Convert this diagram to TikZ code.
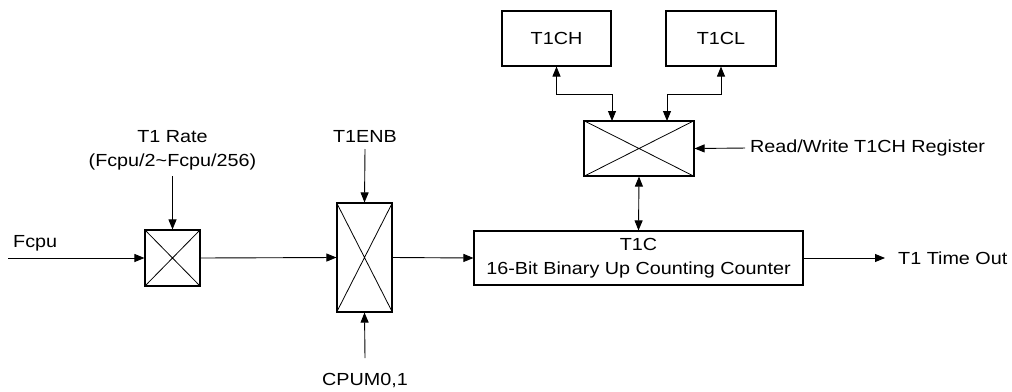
\documentclass[tikz,border=0pt]{standalone}
\usepackage{fontspec}
\setmainfont{Liberation Sans}[FakeStretch=1.13]
\usetikzlibrary{arrows.meta}
\begin{document}
\begin{tikzpicture}[x=1pt,y=-1pt,
  every node/.style={font=\fontsize{17.5}{24}\selectfont},
  box/.style={draw,line width=1.1pt,inner sep=0pt,align=center},
  muxbox/.style={draw,line width=1.1pt,inner sep=0pt},
  lbl/.style={inner sep=2pt,align=center},
  conn/.style={line width=0.9pt,-{Triangle[length=10pt,width=8pt]}},
  dconn/.style={line width=0.9pt,{Triangle[length=10pt,width=8pt]}-{Triangle[length=10pt,width=8pt]}}]
\useasboundingbox (0,0) rectangle (1012,391);
% boxes
\node[box,minimum width=109pt,minimum height=55pt] (t1ch) at (556.5,38.5) {T1CH};
\node[box,minimum width=110pt,minimum height=55pt] (t1cl) at (721,38.5) {T1CL};
\node[muxbox,minimum width=110pt,minimum height=55pt] (rwmux) at (639,148.5) {};
\node[box,minimum width=329pt,minimum height=54pt] (t1c) at (638.5,258) {T1C\\16-Bit Binary Up Counting Counter};
\node[muxbox,minimum width=55pt,minimum height=56pt] (rate) at (172.5,258) {};
\node[muxbox,minimum width=55pt,minimum height=109pt] (enb) at (364.5,257.5) {};
% crosses
\foreach \m in {rwmux,rate,enb}{
  \draw[line width=0.8pt] (\m.north west) -- (\m.south east) (\m.north east) -- (\m.south west);
}
% labels
\node[lbl,anchor=south west] (fcpu) at (11,253) {Fcpu};
\coordinate (fcpuin) at (8,258);
\node[lbl] (ratelbl) at (172.5,150) {T1 Rate\\(Fcpu/2\textasciitilde Fcpu/256)};
\node[lbl] (enblbl) at (365,136) {T1ENB};
\node[lbl] (cpum) at (365,381) {CPUM0,1};
\node[lbl,anchor=west] (rwlbl) at (748,148) {Read/Write T1CH Register};
\node[lbl,anchor=west] (tout) at (896,258) {T1 Time Out};
% connectors
\draw[conn] (fcpuin) -- (rate.west);
\draw[conn] (ratelbl.south |- 0,176) -- (rate.north);
\draw[conn] (rate.east) -- (enb.west);
\draw[conn] (enblbl.south |- 0,149) -- (enb.north);
\draw[conn] (cpum.north |- 0,358) -- (enb.south);
\draw[conn] (enb.east) -- (t1c.west);
\draw[conn,shorten >=11pt] (t1c.east) -- (tout.west);
\draw[conn,shorten <=3pt] (rwlbl.west) -- (rwmux.east);
\draw[dconn] (rwmux.south) -- (t1c.north);
\draw[dconn] (t1ch.south) |- (612,94) -- (612,121);
\draw[dconn] (t1cl.south) |- (667,94) -- (667,121);
\end{tikzpicture}
\end{document}
